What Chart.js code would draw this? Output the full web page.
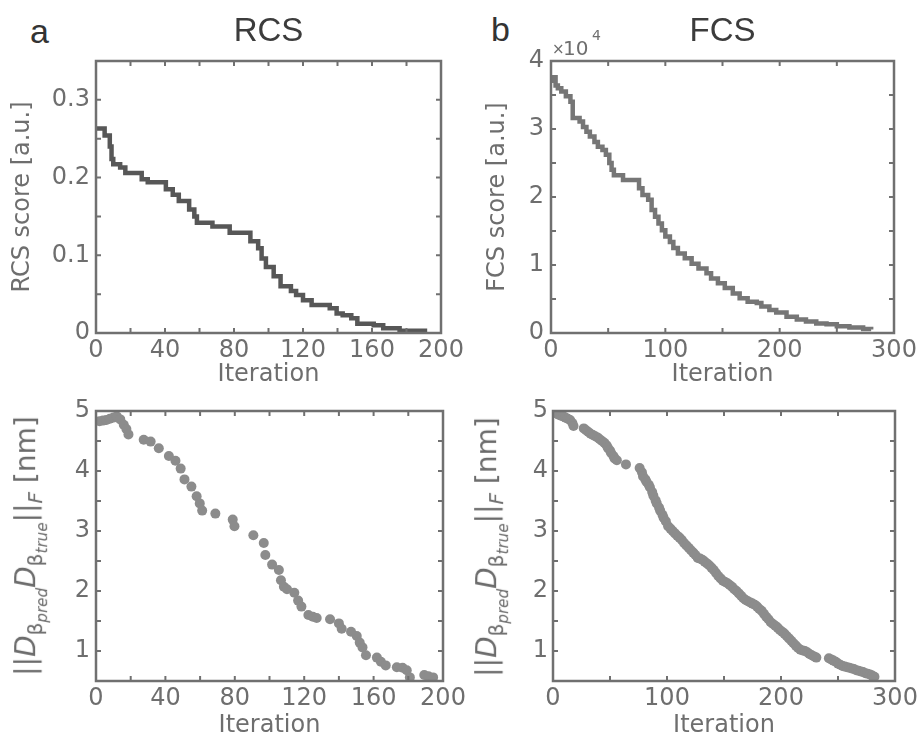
<!DOCTYPE html>
<html>
<head>
<meta charset="utf-8">
<script src="https://cdn.jsdelivr.net/npm/chart.js@4.4.0/dist/chart.umd.min.js"></script>
<style>
  body { margin: 0; background: #fff; width: 922px; height: 738px; position: relative; overflow: hidden; }
  canvas { position: absolute; }
  .tag { position: absolute; font-family: "Liberation Sans", sans-serif; font-size: 34px; color: #333; line-height: 1; }
  .ylab { position: absolute; white-space: nowrap; transform: translate(-50%, -50%) rotate(-90deg);
          font-family: "DejaVu Sans", sans-serif; font-size: 28px; color: #6b6b6b; line-height: 1; }
  .ylab sub { font-size: 0.72em; vertical-align: -0.35em; line-height: 1; }
  .ylab sub sub { font-size: 0.75em; vertical-align: -0.3em; }
</style>
</head>
<body>
<div class="tag" style="left:30px; top:14px;">a</div>
<div class="tag" style="left:491px; top:12px;">b</div>

<canvas id="rcsScore" width="470" height="400" style="left:0; top:0;"></canvas>
<canvas id="fcsScore" width="461" height="400" style="left:461px; top:0;"></canvas>
<canvas id="rcsErr" width="470" height="368" style="left:0; top:370px;"></canvas>
<canvas id="fcsErr" width="461" height="368" style="left:461px; top:370px;"></canvas>

<div class="ylab" style="left:31px; top:546px;">||<i>D</i><sub>β<sub><i>pred</i></sub></sub><i>D</i><sub>β<sub><i>true</i></sub></sub>||<sub><i>F</i></sub> [nm]</div>
<div class="ylab" style="left:492px; top:547px;">||<i>D</i><sub>β<sub><i>pred</i></sub></sub><i>D</i><sub>β<sub><i>true</i></sub></sub>||<sub><i>F</i></sub> [nm]</div>

<script>
// RCS score staircase (iteration where the value starts, value)
const rcsIter = [0, 5, 8, 9, 10, 14, 17, 26.5, 30, 40.5, 44.5, 48, 54, 57, 58.5, 67.5, 77.5, 89.5, 94, 96,
  98.5, 103, 107, 113, 116, 120, 125, 135.5, 139.5, 143, 148, 151.5, 161, 166.5, 176, 192];
const rcsScore = [0.263, 0.254, 0.240, 0.224, 0.217, 0.213, 0.206, 0.198, 0.194, 0.185, 0.178, 0.170, 0.159, 0.150, 0.142, 0.137, 0.129, 0.118, 0.109, 0.096,
  0.085, 0.073, 0.060, 0.054, 0.049, 0.042, 0.036, 0.032, 0.025, 0.023, 0.019, 0.012, 0.010, 0.006, 0.003, 0.003];

// FCS score staircase
const fcsIter = [0, 2, 4, 6, 9, 13, 17, 19, 25, 28, 31, 34, 38, 41, 45, 48, 51, 53, 55, 63,
  77, 80, 85, 88, 91, 94, 97, 100, 104, 107, 111, 117, 123, 129, 136, 140, 146, 152, 159, 165,
  172, 180, 184, 191, 197, 206, 215, 223, 232, 241, 250, 261, 273, 280];
const fcsScore = [37100, 37600, 36400, 36000, 35500, 34800, 34000, 31600, 31100, 30300, 29600, 28900, 28100, 27400, 26900, 26200, 25000, 24000, 23200, 22500,
  21300, 20300, 19600, 18100, 17100, 16100, 15100, 14200, 13400, 12500, 11700, 11000, 10200, 9500, 8800, 8000, 7300, 6600, 5800, 5100,
  4600, 4400, 3900, 3400, 3000, 2400, 2000, 1700, 1400, 1300, 1000, 800, 600, 500];

// ||D D||_F error, RCS run
const rcsErrIter = [2, 4, 6, 8, 10, 12, 14, 16, 17.5, 18.7, 27.5, 31.5, 36.2, 42, 45.8, 48.8, 51, 55, 58, 59.8,
  61.2, 68.8, 78.8, 79.8, 90.7, 96.7, 97.6, 101.5, 105.4, 106.6, 108.3, 110.1, 114.3, 116.5, 118.4, 122.4, 125, 127.2, 134.9, 140,
  141.6, 147, 150.3, 152, 153.6, 155.6, 161.9, 164.2, 167, 173.4, 176.7, 179.1, 180.9, 189.2, 191.6, 194.3];
const rcsErr = [4.83, 4.84, 4.85, 4.87, 4.89, 4.91, 4.86, 4.77, 4.70, 4.61, 4.52, 4.49, 4.38, 4.25, 4.17, 4.04, 3.86, 3.74, 3.58, 3.46,
  3.34, 3.29, 3.19, 3.08, 2.93, 2.80, 2.60, 2.44, 2.35, 2.18, 2.07, 2.03, 1.97, 1.84, 1.74, 1.60, 1.57, 1.55, 1.53, 1.46,
  1.37, 1.32, 1.25, 1.14, 1.06, 0.93, 0.89, 0.82, 0.76, 0.73, 0.72, 0.68, 0.56, 0.60, 0.58, 0.56];

// ||D D||_F error, FCS run
const fcsErrIter = [1, 3, 5, 7, 9, 11, 13, 15, 17, 18, 27, 29, 31, 33, 35, 37, 39, 41, 43, 45,
  47, 48, 50, 51, 53, 54, 56, 64, 76, 78, 79, 81, 82, 84, 85, 87, 88, 90, 91, 93,
  94, 96, 97, 99, 101, 103, 105, 107, 109, 111, 113, 115, 117, 119, 121, 123, 125, 127, 129, 131,
  133, 135, 137, 139, 141, 143, 145, 147, 149, 151, 153, 155, 157, 159, 161, 163, 165, 167, 169, 171,
  173, 175, 177, 179, 181, 183, 185, 187, 189, 191, 193, 195, 197, 199, 201, 203, 205, 207, 209, 211,
  213, 215, 217, 219, 221, 223, 225, 227, 229, 231, 242, 244, 246, 248, 250, 252, 254, 256, 258, 260,
  262, 264, 266, 268, 270, 272, 274, 276, 278, 280, 282];
const fcsErr = [4.97, 4.96, 4.94, 4.92, 4.91, 4.89, 4.87, 4.85, 4.80, 4.75, 4.71, 4.68, 4.65, 4.62, 4.60, 4.58, 4.56, 4.53, 4.50, 4.47,
  4.43, 4.39, 4.34, 4.30, 4.25, 4.21, 4.18, 4.11, 4.05, 3.98, 3.91, 3.86, 3.82, 3.77, 3.73, 3.65, 3.59, 3.51, 3.46, 3.39,
  3.34, 3.27, 3.22, 3.16, 3.08, 3.04, 3.00, 2.96, 2.92, 2.89, 2.85, 2.80, 2.76, 2.72, 2.68, 2.64, 2.60, 2.55, 2.54, 2.52,
  2.49, 2.46, 2.43, 2.39, 2.35, 2.30, 2.25, 2.21, 2.17, 2.15, 2.13, 2.10, 2.07, 2.03, 2.00, 1.96, 1.92, 1.88, 1.85, 1.83,
  1.81, 1.79, 1.77, 1.74, 1.70, 1.67, 1.62, 1.57, 1.53, 1.48, 1.45, 1.42, 1.39, 1.35, 1.32, 1.29, 1.25, 1.21, 1.17, 1.13,
  1.09, 1.05, 1.02, 1.01, 1.00, 0.98, 0.95, 0.93, 0.91, 0.89, 0.88, 0.86, 0.84, 0.82, 0.79, 0.77, 0.75, 0.74, 0.73, 0.72,
  0.71, 0.70, 0.68, 0.67, 0.66, 0.65, 0.63, 0.62, 0.61, 0.59, 0.57];

const TEXT = '#6e6e6e';
const AXIS = '#707070';
const tickFont = { family: 'DejaVu Sans', size: 24 };
const titleFont = { family: 'DejaVu Sans', size: 24, lineHeight: 1 };

function pairs(xs, ys) {
    return xs.map((x, i) => ({ x: x, y: ys[i] }));
}

function fixedSize(size) {
    return function (scale) {
        if (scale.isHorizontal()) scale.height = size; else scale.width = size;
        scale.paddingLeft = scale.paddingRight = scale.paddingTop = scale.paddingBottom = 0;
    };
}

// matlab-like box with inward ticks on all four sides
const boxTicks = {
    id: 'boxTicks',
    afterDraw(chart) {
        const { ctx, chartArea: a, scales: { x, y } } = chart;
        ctx.save();
        ctx.strokeStyle = AXIS;
        ctx.lineWidth = 2;
        ctx.beginPath();
        x.ticks.forEach(t => {
            const px = x.getPixelForValue(t.value);
            ctx.moveTo(px, a.bottom); ctx.lineTo(px, a.bottom - 5);
            ctx.moveTo(px, a.top); ctx.lineTo(px, a.top + 5);
        });
        y.ticks.forEach(t => {
            const py = y.getPixelForValue(t.value);
            ctx.moveTo(a.left, py); ctx.lineTo(a.left + 5, py);
            ctx.moveTo(a.right, py); ctx.lineTo(a.right - 5, py);
        });
        ctx.stroke();
        ctx.lineWidth = 2.5;
        ctx.strokeRect(a.left, a.top, a.right - a.left, a.bottom - a.top);
        ctx.restore();
    }
};

// "x10^4" exponent above the FCS y axis
const exponentLabel = {
    id: 'exponentLabel',
    afterDraw(chart) {
        const { ctx, chartArea: a } = chart;
        ctx.save();
        ctx.fillStyle = TEXT;
        ctx.textBaseline = 'alphabetic';
        ctx.font = '15px "DejaVu Sans"';
        ctx.fillText('×', a.left + 1, a.top - 7);
        ctx.font = '20px "DejaVu Sans"';
        ctx.fillText('10', a.left + 12, a.top - 6);
        ctx.font = '14px "DejaVu Sans"';
        ctx.fillText('4', a.left + 41, a.top - 21);
        ctx.restore();
    }
};

function axes(o) {
    return {
        x: {
            type: 'linear', min: 0, max: o.xMax,
            ticks: { stepSize: o.xStep, autoSkip: false, maxRotation: 0, padding: 3, color: TEXT, font: tickFont,
                callback: v => (v % o.xLabelStep === 0 ? v : '') },
            grid: { display: false, drawTicks: false },
            border: { display: false },
            title: { display: true, text: 'Iteration', color: TEXT, font: titleFont, padding: { top: 0, bottom: o.xTitlePad } },
            afterFit: fixedSize(o.xHeight)
        },
        y: {
            type: 'linear', min: o.yMin, max: o.yMax,
            ticks: { stepSize: o.yStep, autoSkip: false, padding: o.yTickPad, color: TEXT, font: tickFont, callback: o.yLabel },
            grid: { display: false, drawTicks: false },
            border: { display: false },
            title: { display: !!o.yTitle, text: o.yTitle || '', color: TEXT, font: titleFont, padding: { top: o.yTitlePad || 0, bottom: 0 } },
            afterFit: fixedSize(o.yWidth)
        }
    };
}

function panelTitle(text) {
    return {
        display: true, text: text, fullSize: false, color: '#3c3c3c',
        font: { family: 'Liberation Sans', size: 33, weight: 'normal', lineHeight: 1 },
        padding: { top: 15, bottom: 13 }
    };
}

const baseOptions = (padding, scales, title) => ({
    responsive: false,
    animation: false,
    devicePixelRatio: 1,
    layout: { padding: padding },
    scales: scales,
    plugins: { legend: { display: false }, tooltip: { enabled: false }, title: title || { display: false } }
});

new Chart(document.getElementById('rcsScore'), {
    type: 'line',
    data: { datasets: [{ data: pairs(rcsIter, rcsScore), stepped: true, borderColor: '#575757', borderWidth: 4.5, pointRadius: 0, fill: false }] },
    options: baseOptions({ left: 0, top: 0, right: 29, bottom: 11 },
        axes({ xMax: 200, xStep: 20, xLabelStep: 40, xHeight: 56, xTitlePad: 2,
            yMin: 0, yMax: 0.35, yStep: 0.05, yWidth: 96, yTickPad: 6, yTitle: 'RCS score [a.u.]', yTitlePad: 11,
            yLabel: v => (Math.abs(v * 10 - Math.round(v * 10)) < 1e-6 ? String(Math.round(v * 10) / 10) : '') }),
        panelTitle('RCS')),
    plugins: [boxTicks]
});

new Chart(document.getElementById('fcsScore'), {
    type: 'line',
    data: { datasets: [{ data: pairs(fcsIter, fcsScore), stepped: true, borderColor: '#767676', borderWidth: 4.5, pointRadius: 0, fill: false }] },
    options: baseOptions({ left: 0, top: 0, right: 28, bottom: 11 },
        axes({ xMax: 300, xStep: 50, xLabelStep: 100, xHeight: 56, xTitlePad: 2,
            yMin: 0, yMax: 40000, yStep: 5000, yWidth: 90, yTickPad: 7, yTitle: 'FCS score [a.u.]', yTitlePad: 25,
            yLabel: v => (v % 10000 === 0 ? v / 10000 : '') }),
        panelTitle('FCS')),
    plugins: [boxTicks, exponentLabel]
});

new Chart(document.getElementById('rcsErr'), {
    type: 'scatter',
    data: { datasets: [{ data: pairs(rcsErrIter, rcsErr), backgroundColor: '#8c8c8c', borderWidth: 0, pointRadius: 5 }] },
    options: baseOptions({ left: 0, top: 41, right: 27, bottom: 0 },
        axes({ xMax: 200, xStep: 20, xLabelStep: 40, xHeight: 57, xTitlePad: 0,
            yMin: 0.5, yMax: 5, yStep: 0.5, yWidth: 96, yTickPad: 6,
            yLabel: v => (Number.isInteger(v) ? v : '') })),
    plugins: [boxTicks]
});

new Chart(document.getElementById('fcsErr'), {
    type: 'scatter',
    data: { datasets: [{ data: pairs(fcsErrIter, fcsErr), backgroundColor: '#8c8c8c', borderWidth: 0, pointRadius: 5 }] },
    options: baseOptions({ left: 0, top: 41, right: 27, bottom: 0 },
        axes({ xMax: 300, xStep: 50, xLabelStep: 100, xHeight: 57, xTitlePad: 0,
            yMin: 0.5, yMax: 5, yStep: 0.5, yWidth: 92, yTickPad: 5,
            yLabel: v => (Number.isInteger(v) ? v : '') })),
    plugins: [boxTicks]
});
</script>
</body>
</html>
